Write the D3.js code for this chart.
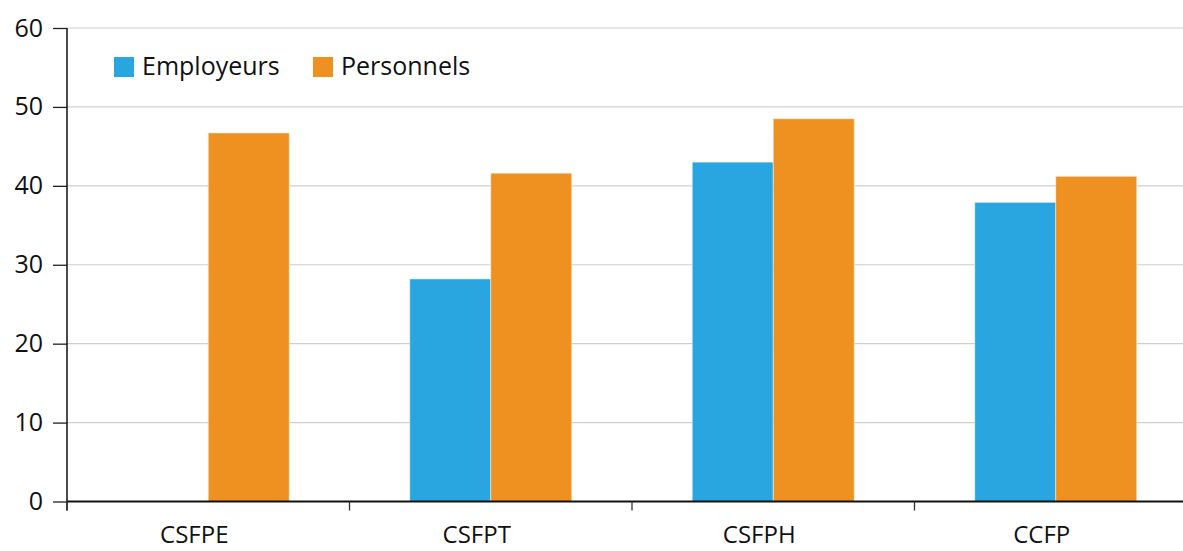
<!DOCTYPE html>
<html>
<head>
<meta charset="utf-8">
<script src="https://cdn.jsdelivr.net/npm/d3@7"></script>
<style>
  body { margin: 0; background: #fff; }
  text { font-family: "Open Sans", "Noto Sans", sans-serif; fill: #111; }
</style>
</head>
<body>
<svg id="chart" width="1183" height="551"></svg>
<script>
// values
const categories = ["CSFPE", "CSFPT", "CSFPH", "CCFP"];
const series = ["Employeurs", "Personnels"];
const employeurs = [null, 28.2, 43.0, 37.9];
const personnels = [46.7, 41.6, 48.5, 41.2];
const yTicks = [0, 10, 20, 30, 40, 50, 60];
const colors = ["#29a6df", "#ef9120"];

const svg = d3.select("#chart");
const plotLeft = 67, plotRight = 1197, plotTop = 28, plotBottom = 501.5;

const x0 = d3.scaleBand().domain(categories).range([plotLeft, plotRight]);
const x1 = d3.scaleBand().domain(series).range([0, x0.bandwidth()]).paddingOuter(0.744);
const y = d3.scaleLinear().domain([0, 60]).range([plotBottom, plotTop]);
const color = d3.scaleOrdinal().domain(series).range(colors);

// gridlines
svg.append("g")
  .selectAll("line")
  .data(yTicks.filter(d => d > 0))
  .enter().append("line")
  .attr("x1", plotLeft).attr("x2", 1183)
  .attr("y1", d => y(d)).attr("y2", d => y(d))
  .attr("stroke", "#cfcfcf").attr("stroke-width", 1.2);

// bars
const rows = categories.map((c, i) => ({ cat: c, vals: [employeurs[i], personnels[i]] }));
svg.append("g")
  .selectAll("g")
  .data(rows)
  .enter().append("g")
  .attr("transform", d => "translate(" + x0(d.cat) + ",0)")
  .selectAll("rect")
  .data(d => series.map((s, j) => ({ s: s, v: d.vals[j] })).filter(e => e.v != null))
  .enter().append("rect")
  .attr("x", d => x1(d.s))
  .attr("width", x1.bandwidth())
  .attr("y", d => y(d.v))
  .attr("height", d => plotBottom - y(d.v))
  .attr("fill", d => color(d.s))
  .attr("stroke", "rgba(255,255,255,0.45)")
  .attr("stroke-width", 1);

// y axis
const yAxis = svg.append("g")
  .attr("transform", "translate(" + plotLeft + ",0)")
  .call(d3.axisLeft(y).tickValues(yTicks).tickSize(14).tickPadding(10));
yAxis.select(".domain").remove();
yAxis.selectAll(".tick line").attr("stroke", "#222").attr("stroke-width", 1.3);
yAxis.selectAll(".tick text").style("font-size", "25px").attr("fill", "#111");
svg.append("line")
  .attr("x1", plotLeft).attr("x2", plotLeft).attr("y1", plotTop).attr("y2", plotBottom + 9)
  .attr("stroke", "#111").attr("stroke-width", 1.5);

// x axis baseline and ticks
svg.append("line")
  .attr("x1", plotLeft).attr("x2", 1183).attr("y1", plotBottom).attr("y2", plotBottom)
  .attr("stroke", "#111").attr("stroke-width", 2);
svg.append("g")
  .selectAll("line")
  .data(categories)
  .enter().append("line")
  .attr("x1", d => x0(d)).attr("x2", d => x0(d))
  .attr("y1", plotBottom).attr("y2", plotBottom + 9)
  .attr("stroke", "#333").attr("stroke-width", 1.3);
svg.append("g")
  .selectAll("text")
  .data(categories)
  .enter().append("text")
  .attr("x", d => x0(d) + x0.bandwidth() / 2 - 14)
  .attr("y", 543)
  .attr("text-anchor", "middle")
  .style("font-size", "24px")
  .text(d => d);

// legend
const legendX = [114, 313];
const legend = svg.append("g")
  .selectAll("g")
  .data(series)
  .enter().append("g")
  .attr("transform", (d, i) => "translate(" + legendX[i] + ",57)");
legend.append("rect").attr("width", 20).attr("height", 20).attr("fill", d => color(d));
legend.append("text").attr("x", 28).attr("y", 18).style("font-size", "25px").text(d => d);
</script>
</body>
</html>
